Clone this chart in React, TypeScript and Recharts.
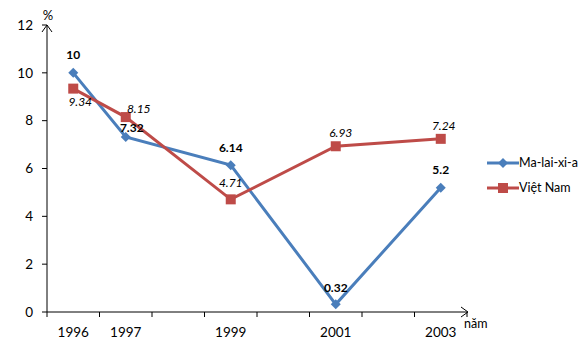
import React from "react";
import { LineChart, Line, XAxis, YAxis, LabelList } from "recharts";

// Tăng trưởng GDP (%), Ma-lai-xi-a và Việt Nam
const years = [1996, 1997, 1999, 2001, 2003];
const malaysia = [10, 7.32, 6.14, 0.32, 5.2];
const vietnam = [9.34, 8.15, 4.71, 6.93, 7.24];
const yTicks = [0, 2, 4, 6, 8, 10, 12];
// tick marks sit between the year slots, like an Excel category axis
const slotTicks = [1995.5, 1996.5, 1997.5, 1998.5, 1999.5, 2000.5, 2001.5, 2002.5, 2003.5];

const BLUE = "#4A7EBB";
const RED = "#BE4B48";
const FONT = "Lato, 'Noto Sans', sans-serif";

const data = years.map((year, i) => ({ year, my: malaysia[i], vn: vietnam[i] }));
const xTicks = [...slotTicks, ...years].sort((a, b) => a - b);

// label nudges (px) so the numbers sit where Excel put them
const myNudge = [[0, -18], [6, -9], [0, -18], [0, -17], [0, -18]];
const vnNudge = [[7, 13], [13, -9], [0, -17], [5, -14], [3, -13]];

function makeLabel(nudge: number[][], bold: boolean) {
  return (props: any) => {
    const { x, y, value, index } = props;
    const [dx, dy] = nudge[index] ?? [0, -14];
    return (
      <text
        x={x + dx}
        y={y + dy}
        textAnchor="middle"
        dominantBaseline="central"
        fontFamily={FONT}
        fontSize={12}
        fontWeight={bold ? 700 : 400}
        fontStyle={bold ? "normal" : "italic"}
        fill="#000"
      >
        {value}
      </text>
    );
  };
}

const Diamond = (props: any) => {
  const { cx, cy, index } = props;
  return (
    <path
      key={`d${index}`}
      d={`M${cx},${cy - 5} L${cx + 5},${cy} L${cx},${cy + 5} L${cx - 5},${cy} Z`}
      fill={BLUE}
    />
  );
};

const Square = (props: any) => {
  const { cx, cy, index } = props;
  return <rect key={`s${index}`} x={cx - 5} y={cy - 5} width={10} height={10} fill={RED} />;
};

// half-year values get a tick mark, whole years get their label
const YearTick = (props: any) => {
  const { x, y, payload } = props;
  const v = payload.value;
  if (!Number.isInteger(v)) {
    return <line x1={x} y1={y} x2={x} y2={y + 5} stroke="#000" />;
  }
  return (
    <text x={x} y={y + 20} textAnchor="middle" dominantBaseline="central" fontFamily={FONT} fontSize={13.5} fill="#000">
      {v}
    </text>
  );
};

const YArrow = (props: any) => {
  const { x, y, width } = props.viewBox;
  const ax = x + width;
  return (
    <g>
      <path d={`M${ax - 5},${y + 7} L${ax},${y} L${ax + 5},${y + 7}`} fill="none" stroke="#000" />
      <text x={ax + 1} y={y - 10} textAnchor="middle" dominantBaseline="central" fontFamily={FONT} fontSize={13}>
        %
      </text>
    </g>
  );
};

const XArrow = (props: any) => {
  const { x, y, width } = props.viewBox;
  const ax = x + width + 1;
  return (
    <g>
      <path d={`M${ax - 7},${y - 5} L${ax},${y} L${ax - 7},${y + 5}`} fill="none" stroke="#000" />
      <text x={ax - 4} y={y + 11} dominantBaseline="central" fontFamily={FONT} fontSize={12.5}>
        năm
      </text>
    </g>
  );
};

function LegendRow({ color, label, square }: { color: string; label: string; square: boolean }) {
  return (
    <div style={{ display: "flex", alignItems: "center", height: 25 }}>
      <svg width={32} height={12}>
        <line x1={0} y1={6} x2={32} y2={6} stroke={color} strokeWidth={3} />
        {square ? (
          <rect x={11} y={1} width={10} height={10} fill={color} />
        ) : (
          <path d="M16,1 L21,6 L16,11 L11,6 Z" fill={color} />
        )}
      </svg>
      <span style={{ fontFamily: FONT, fontSize: 12.5 }}>{label}</span>
    </div>
  );
}

export default function App() {
  return (
    <div style={{ position: "absolute", left: 0, top: 0, width: 583, height: 352, background: "#fff" }}>
      <LineChart width={583} height={352} data={data} margin={{ top: 25, right: 116, left: 0, bottom: 0 }}>
        <XAxis
          type="number"
          dataKey="year"
          domain={[1995.5, 2003.5]}
          ticks={xTicks}
          interval={0}
          height={40}
          tickSize={0}
          tickMargin={0}
          tickLine={false}
          axisLine={{ stroke: "#000" }}
          tick={<YearTick />}
          allowDataOverflow
          label={<XArrow />}
        />
        <YAxis
          domain={[0, 12]}
          ticks={yTicks}
          width={47}
          tickSize={5}
          tickMargin={9}
          interval={0}
          axisLine={{ stroke: "#000" }}
          tickLine={{ stroke: "#000" }}
          tick={{ fontFamily: FONT, fontSize: 13.5, fill: "#000" }}
          label={<YArrow />}
        />
        <Line
          dataKey="my"
          name="Ma-lai-xi-a"
          stroke={BLUE}
          strokeWidth={3}
          dot={Diamond}
          activeDot={false}
          isAnimationActive={false}
        >
          <LabelList dataKey="my" content={makeLabel(myNudge, true)} />
        </Line>
        <Line
          dataKey="vn"
          name="Việt Nam"
          stroke={RED}
          strokeWidth={3}
          dot={Square}
          activeDot={false}
          isAnimationActive={false}
        >
          <LabelList dataKey="vn" content={makeLabel(vnNudge, false)} />
        </Line>
      </LineChart>
      <div style={{ position: "absolute", left: 487, top: 150 }}>
        <LegendRow color={BLUE} label="Ma-lai-xi-a" square={false} />
        <LegendRow color={RED} label="Việt Nam" square={true} />
      </div>
    </div>
  );
}
